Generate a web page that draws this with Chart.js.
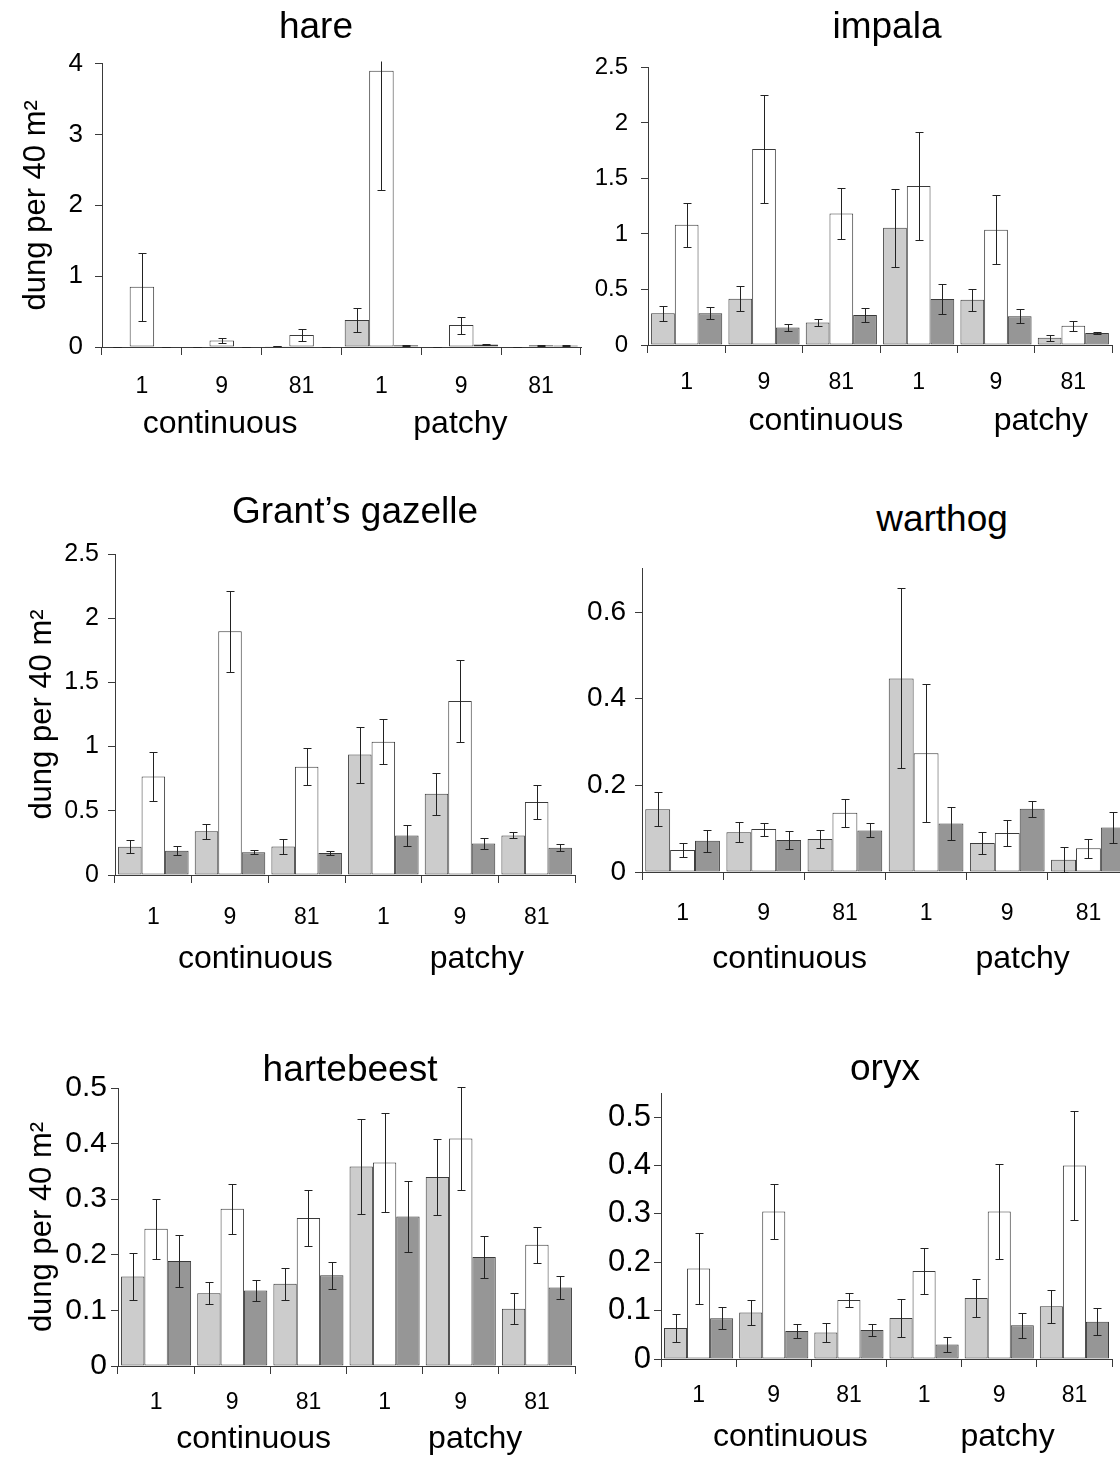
<!DOCTYPE html>
<html>
<head>
<meta charset="utf-8">
<script src="https://cdn.jsdelivr.net/npm/chart.js@4.4.1/dist/chart.umd.min.js"></script>
<style>
  html, body { margin: 0; padding: 0; background: #fff; }
  #page {
    position: relative;
    width: 1120px;
    height: 1480px;
    overflow: hidden;
    background: #fff;
    font-family: "Liberation Sans", Arial, sans-serif;
  }
  #page canvas { position: absolute; }
  .panel-title {
    position: absolute;
    transform: translate(-50%, -50%);
    font-size: 37px;
    line-height: 1;
    color: #000;
    white-space: nowrap;
  }
</style>
</head>
<body>
<div id="page"></div>
<script>
  // plot size under each landscape type
  const SIZE_LABELS = ["1", "9", "81", "1", "9", "81"];
  const LANDSCAPE_LABELS = ["continuous", "patchy"];

  // rows: light grey, white, dark grey bars
  const hareTicks = [0, 1, 2, 3, 4];
  const hareMean = [
    [0, 0, 0.01, 0.38, 0, 0],
    [0.85, 0.09, 0.17, 3.9, 0.31, 0.025],
    [0, 0, 0, 0.025, 0.037, 0.02],
  ];
  const hareSe = [
    [0, 0, 0, 0.17, 0, 0],
    [0.48, 0.03, 0.08, 1.69, 0.12, 0.01],
    [0, 0, 0, 0.01, 0.01, 0.01],
  ];

  const impalaTicks = [0, 0.5, 1, 1.5, 2, 2.5];
  const impalaMean = [
    [0.285, 0.417, 0.202, 1.056, 0.408, 0.065],
    [1.083, 1.766, 1.185, 1.432, 1.039, 0.173],
    [0.285, 0.158, 0.27, 0.414, 0.258, 0.109],
  ];
  const impalaSe = [
    [0.066, 0.115, 0.034, 0.35, 0.1, 0.026],
    [0.2, 0.487, 0.233, 0.489, 0.308, 0.044],
    [0.055, 0.032, 0.062, 0.135, 0.062, 0.009],
  ];

  const gazelleTicks = [0, 0.5, 1, 1.5, 2, 2.5];
  const gazelleMean = [
    [0.22, 0.341, 0.222, 0.938, 0.633, 0.308],
    [0.768, 1.898, 0.843, 1.037, 1.355, 0.569],
    [0.189, 0.178, 0.171, 0.308, 0.246, 0.212],
  ];
  const gazelleSe = [
    [0.05, 0.058, 0.06, 0.218, 0.162, 0.023],
    [0.193, 0.317, 0.145, 0.176, 0.317, 0.129],
    [0.033, 0.017, 0.017, 0.081, 0.044, 0.026],
  ];

  const warthogTicks = [0, 0.2, 0.4, 0.6];
  const warthogMean = [
    [0.145, 0.092, 0.076, 0.447, 0.067, 0.028],
    [0.051, 0.099, 0.137, 0.274, 0.09, 0.055],
    [0.072, 0.074, 0.096, 0.112, 0.146, 0.103],
  ];
  const warthogSe = [
    [0.039, 0.023, 0.021, 0.208, 0.025, 0.03],
    [0.017, 0.015, 0.032, 0.159, 0.03, 0.022],
    [0.026, 0.02, 0.016, 0.038, 0.019, 0.035],
  ];

  const hartebeestTicks = [0, 0.1, 0.2, 0.3, 0.4, 0.5];
  const hartebeestMean = [
    [0.161, 0.131, 0.148, 0.359, 0.34, 0.103],
    [0.247, 0.283, 0.266, 0.366, 0.409, 0.218],
    [0.189, 0.136, 0.163, 0.269, 0.196, 0.141],
  ];
  const hartebeestSe = [
    [0.043, 0.02, 0.029, 0.085, 0.068, 0.028],
    [0.054, 0.045, 0.051, 0.089, 0.093, 0.032],
    [0.047, 0.019, 0.024, 0.064, 0.038, 0.02],
  ];

  const oryxTicks = [0, 0.1, 0.2, 0.3, 0.4, 0.5];
  const oryxMean = [
    [0.064, 0.096, 0.055, 0.085, 0.126, 0.109],
    [0.187, 0.305, 0.122, 0.182, 0.305, 0.4],
    [0.084, 0.058, 0.06, 0.03, 0.07, 0.077],
  ];
  const oryxSe = [
    [0.029, 0.025, 0.02, 0.04, 0.04, 0.034],
    [0.074, 0.057, 0.015, 0.048, 0.098, 0.113],
    [0.023, 0.014, 0.012, 0.015, 0.026, 0.028],
  ];

  const BAR_FILLS = ["#cccccc", "#ffffff", "#969696"];
  const LINE = "#3a3a3a";
  const FONT = "'Liberation Sans', Arial, sans-serif";
  const TICK_LEN = 7;
  const X_FONT = 23;
  const GROUP_FONT = 32;
  const GROUP_AXIS_H = 70;

  // box: canvas left/top; plot: left/top/right/bottom; all in page pixels
  const PANELS = [
    { name: "hare", mean: hareMean, se: hareSe, ticks: hareTicks, max: 4,
      box: [0, 36], plot: [102, 59, 581, 347], titleAt: [316, 25], yTitleX: 36,
      yFont: 26, yPad: 12, tickY: 387, groupY: 416, groupAt: [1.48, 4.49] },
    { name: "impala", mean: impalaMean, se: impalaSe, ticks: impalaTicks, max: 2.5,
      box: [578, 40], plot: [648, 63, 1112, 345], titleAt: [887, 25], yTitleX: null,
      yFont: 24, yPad: 13, tickY: 383, groupY: 413, groupAt: [2.30, 5.08] },
    { name: "Grant\u2019s gazelle", mean: gazelleMean, se: gazelleSe, ticks: gazelleTicks, max: 2.5,
      box: [0, 530], plot: [115, 553, 575, 875], titleAt: [355, 510], yTitleX: 42,
      yFont: 25, yPad: 9, tickY: 918, groupY: 951, groupAt: [1.83, 4.72] },
    { name: "warthog", mean: warthogMean, se: warthogSe, ticks: warthogTicks, max: 0.7,
      box: [572, 543], plot: [642, 566, 1129, 872], titleAt: [942, 518], yTitleX: null,
      yFont: 28, yPad: 9, tickY: 914, groupY: 951, groupAt: [1.82, 4.69] },
    { name: "hartebeest", mean: hartebeestMean, se: hartebeestSe, ticks: hartebeestTicks, max: 0.5,
      box: [0, 1064], plot: [118, 1088, 575, 1366], titleAt: [350, 1068], yTitleX: 42,
      yFont: 30, yPad: 4, tickY: 1403, groupY: 1431, groupAt: [1.78, 4.69] },
    { name: "oryx", mean: oryxMean, se: oryxSe, ticks: oryxTicks, max: 0.55,
      box: [586, 1070], plot: [661, 1093, 1112, 1359], titleAt: [885, 1067], yTitleX: null,
      yFont: 31, yPad: 3, tickY: 1396, groupY: 1429, groupAt: [1.72, 4.61] },
  ];

  // standard-error whiskers with short caps, drawn over the bars
  const errorBars = {
    id: "errorBars",
    afterDatasetsDraw(chart) {
      const { ctx, chartArea } = chart;
      const yScale = chart.scales.y;
      ctx.save();
      ctx.beginPath();
      ctx.rect(chartArea.left, chartArea.top - 2, chartArea.right - chartArea.left, chartArea.bottom - chartArea.top + 4);
      ctx.clip();
      ctx.strokeStyle = "#222222";
      ctx.lineWidth = 1;
      chart.data.datasets.forEach((ds, i) => {
        chart.getDatasetMeta(i).data.forEach((bar, j) => {
          const v = ds.data[j];
          const e = ds.errors[j];
          const x = Math.round(bar.x) + 0.5;
          const yTop = Math.round(yScale.getPixelForValue(v + e)) + 0.5;
          const yBot = Math.round(yScale.getPixelForValue(Math.max(v - e, 0))) + 0.5;
          ctx.beginPath();
          ctx.moveTo(x, yTop);
          ctx.lineTo(x, yBot);
          ctx.moveTo(x - 4, yTop);
          ctx.lineTo(x + 4, yTop);
          ctx.moveTo(x - 4, yBot);
          ctx.lineTo(x + 4, yBot);
          ctx.stroke();
        });
      });
      ctx.restore();
    },
  };

  const page = document.getElementById("page");

  function addTitle(p) {
    const div = document.createElement("div");
    div.className = "panel-title";
    div.textContent = p.name;
    div.style.left = p.titleAt[0] + "px";
    div.style.top = p.titleAt[1] + "px";
    page.appendChild(div);
  }

  function buildPanel(p) {
    const [cx, cy] = p.box;
    const [left, top, right, bottom] = p.plot;
    const xAxisH = p.tickY - bottom + 12;
    const cw = right - cx + 10;
    const ch = bottom - cy + xAxisH + GROUP_AXIS_H;

    const canvas = document.createElement("canvas");
    canvas.width = cw;
    canvas.height = ch;
    canvas.style.left = cx + "px";
    canvas.style.top = cy + "px";
    page.appendChild(canvas);

    // label centre = axis top + tick + padding + half a line
    const tickPad = p.tickY - bottom - TICK_LEN - X_FONT * 0.6;
    const groupPad = p.groupY - bottom - xAxisH - GROUP_FONT * 0.6;

    return new Chart(canvas, {
      type: "bar",
      data: {
        labels: SIZE_LABELS,
        datasets: p.mean.map((values, k) => ({
          data: values,
          errors: p.se[k],
          xAxisID: "x",
          yAxisID: "y",
          backgroundColor: BAR_FILLS[k],
          borderColor: LINE,
          borderWidth: 1,
          borderSkipped: false,
          categoryPercentage: 0.92,
          barPercentage: 1,
        })),
      },
      options: {
        responsive: false,
        animation: false,
        devicePixelRatio: 1,
        layout: {
          padding: { left: 0, top: top - cy, right: cx + cw - right, bottom: 0 },
        },
        plugins: {
          legend: { display: false },
          tooltip: { enabled: false },
        },
        scales: {
          x: {
            type: "category",
            position: "bottom",
            weight: 0,
            offset: true,
            grid: {
              offset: true,
              drawOnChartArea: false,
              drawTicks: true,
              tickLength: 8,
              color: LINE,
            },
            border: { display: true, color: LINE, width: 1 },
            ticks: {
              color: "#000",
              font: { family: FONT, size: X_FONT },
              padding: tickPad - 1,
              maxRotation: 0,
              autoSkip: false,
            },
            afterFit(scale) {
              scale.height = xAxisH;
            },
          },
          x2: {
            type: "linear",
            axis: "x",
            position: "bottom",
            weight: 1,
            offset: false,
            bounds: "data",
            min: 0,
            max: 6,
            grid: { display: false },
            border: { display: false },
            afterBuildTicks(scale) {
              scale.ticks = p.groupAt.map((v) => ({ value: v }));
            },
            ticks: {
              color: "#000",
              font: { family: FONT, size: GROUP_FONT },
              padding: groupPad,
              maxRotation: 0,
              autoSkip: false,
              callback: (value, index) => LANDSCAPE_LABELS[index],
            },
            afterFit(scale) {
              scale.height = GROUP_AXIS_H;
            },
          },
          y: {
            type: "linear",
            min: 0,
            max: p.max,
            grid: {
              drawOnChartArea: false,
              drawTicks: true,
              tickLength: TICK_LEN,
              color: LINE,
            },
            border: { display: true, color: LINE, width: 1 },
            afterBuildTicks(scale) {
              scale.ticks = p.ticks.map((v) => ({ value: v }));
            },
            ticks: {
              color: "#000",
              font: { family: FONT, size: p.yFont },
              padding: p.yPad,
              callback: (value) => String(value),
            },
            title: {
              display: p.yTitleX !== null,
              text: "dung per 40 m\u00b2",
              color: "#000",
              font: { family: FONT, size: 31 },
              padding: { top: p.yTitleX !== null ? p.yTitleX - cx - 31 * 0.6 : 0, bottom: 0 },
            },
            afterFit(scale) {
              scale.width = left - cx;
            },
          },
        },
      },
      plugins: [errorBars],
    });
  }

  PANELS.forEach((p) => {
    buildPanel(p);
    addTitle(p);
  });
</script>
</body>
</html>
